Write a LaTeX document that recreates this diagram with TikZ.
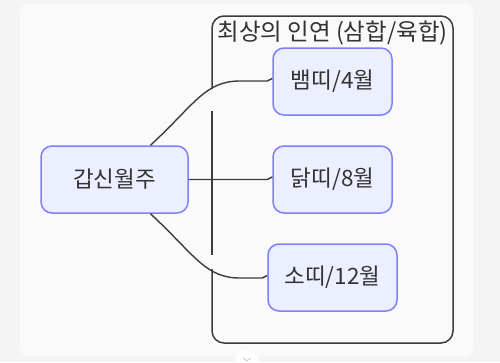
\documentclass[tikz,border=0pt]{standalone}
\usepackage{fontspec}
\setmainfont{Noto Sans CJK KR}
\usetikzlibrary{calc}
\definecolor{outerbg}{HTML}{F4F4F4}
\definecolor{panelbg}{HTML}{FAFAFA}
\definecolor{nodefill}{HTML}{ECEFFF}
\definecolor{nodeline}{HTML}{7F7FFF}
\definecolor{txt}{HTML}{333333}
\definecolor{edge}{HTML}{3C3C3C}
\tikzset{
  mnode/.style={draw=nodeline, fill=nodefill, line width=1.5pt, rounded corners=11pt,
    minimum height=67pt, inner sep=0pt, text=txt, font=\fontsize{22.5}{26}\selectfont},
  medge/.style={draw=edge, line width=1.4pt},
  sgbox/.style={draw=edge, line width=1.5pt, rounded corners=12pt},
}
\begin{document}
\begin{tikzpicture}[x=1pt,y=-1pt]
\useasboundingbox (0,0) rectangle (500,362);
\fill[outerbg] (0,0) rectangle (500,362);
\fill[panelbg, rounded corners=8pt] (20,4) rectangle (473,356);
% subgraph frame (with gaps as in reference)
\draw[sgbox] (212,89) -- (212,16) -- (453,16) -- (453,343) -- (212,343) -- (212,269);
\draw[edge, line width=1.5pt] (212,111) -- (212,255);
\node[text=txt, font=\fontsize{23.5}{26}\selectfont] (title) at (332.5,33) {최상의 인연 (삼합/육합)};
% nodes
\node[mnode, minimum width=147pt] (src) at (114.5,179.5) {갑신월주};
\node[mnode, minimum width=119pt] (n1) at (332.5,81.5) {뱀띠/4월};
\node[mnode, minimum width=119pt] (n2) at (332.5,179.5) {닭띠/8월};
\node[mnode, minimum width=129pt] (n3) at (332.5,277.5) {소띠/12월};
% edges
\coordinate (s1) at ($(src.north)+(36,0)$);
\coordinate (s3) at ($(src.south)+(36,0)$);
\draw[medge] (s1) .. controls (195,104) and (205,81) .. (240,81) -- ($(n1.west)+(-5,-0.5)$) -- ($(n1.west)+(0,-3)$);
\draw[medge] (src.east) -- ($(n2.west)+(-5,0)$) -- ($(n2.west)+(0,-2.5)$);
\draw[medge] (s3) .. controls (195,255) and (205,278) .. (240,278) -- ($(n3.west)+(-5,0.5)$) -- ($(n3.west)+(0,-2)$);
% bottom toggle button
\fill[white] (247,362) circle (12pt);
\draw[gray!50, line width=0.6pt] (243,358) -- (247,361) -- (251,358);
\end{tikzpicture}
\end{document}
